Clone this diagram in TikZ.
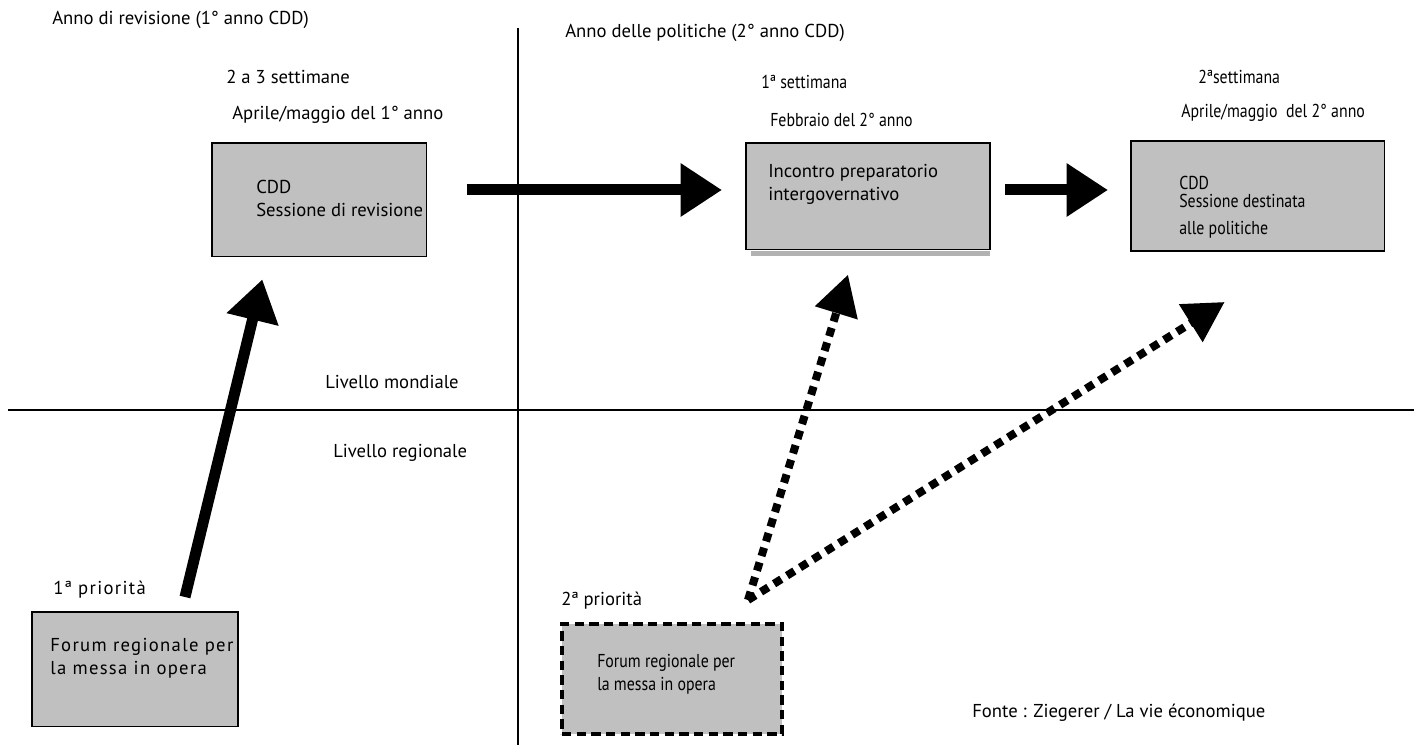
\documentclass[tikz,border=0pt]{standalone}
\usepackage{fontspec}
\setmainfont{PT Sans}
\newfontfamily\narrowfont{PT Sans}[FakeStretch=0.85]
\newfontfamily\spacedfont{PT Sans}[LetterSpace=7]
\usetikzlibrary{arrows.meta,calc}
\definecolor{boxgray}{HTML}{C0C0C0}
\begin{document}
\begin{tikzpicture}[x=0.75pt,y=-0.75pt,
  lbl/.style={anchor=west, inner sep=0pt, font=\fontsize{14}{17.25}\selectfont, align=left},
  narrow/.style={lbl, font=\fontsize{14}{17.25}\narrowfont},
  spaced/.style={lbl, font=\fontsize{14}{17.25}\spacedfont},
  box/.style={draw=black, line width=1.2pt, fill=boxgray, anchor=north west, inner sep=0pt, outer sep=0pt},
  bigarrow/.style={line width=8.25pt, -{Triangle[length=31pt,width=38pt]}},
  dotarrow/.style={line width=6pt, dash pattern=on 6.5pt off 5pt, -{Triangle[length=30pt,width=32pt]}}
]
\useasboundingbox (0,0) rectangle (1421,745);
% axes
\draw[line width=1.2pt] (518,28) -- (518,745);
\draw[line width=1.2pt] (8,410) -- (1414,410);
% boxes
\fill[gray!60] (751,251) rectangle (990,256);
\node[box, minimum width=161pt, minimum height=85pt] (rev) at (212,143) {};
\node[box, minimum width=183pt, minimum height=80pt] (prep) at (746,143) {};
\node[box, minimum width=190pt, minimum height=82.5pt] (pol) at (1131,141) {};
\node[box, minimum width=154.5pt, minimum height=86pt] (forA) at (32,612) {};
\node[box, minimum width=165pt, minimum height=82.5pt, line width=2.5pt, dash pattern=on 7pt off 4pt] (forB) at (562,624) {};
% box texts
\node[lbl] (revtxt) at (256,198) {CDD\\Sessione di revisione};
\node[lbl] (preptxt) at (768,184) {Incontro preparatorio\\intergovernativo};
\node[narrow] (poltxt) at (1179,207) {CDD\\[-4pt]Sessione destinata\\[3pt]alle politiche};
\node[spaced] (foratxt) at (50,658) {Forum regionale per\\la messa in opera};
\node[narrow] (forbtxt) at (597,674) {Forum regionale per\\la messa in opera};
% headings
\node[lbl] (yr1) at (52,20) {Anno di revisione (1° anno CDD)};
\node[lbl] (dur1) at (226,77) {2 a 3 settimane};
\node[lbl] (date1) at (232,115) {Aprile/maggio del 1° anno};
\node[lbl] (yr2) at (565,33) {Anno delle politiche (2° anno CDD)};
\node[narrow] (wk1) at (761,82) {1ª settimana};
\node[narrow] (date2) at (770,120) {Febbraio del 2° anno};
\node[narrow] (wk2) at (1198,77) {2ªsettimana};
\node[narrow] (date3) at (1181,113) {Aprile/maggio\ \ del 2° anno};
\node[lbl] (glob) at (325,382) {Livello mondiale};
\node[lbl] (reg) at (333,453) {Livello regionale};
\node[spaced] (prio1) at (53,590) {1ª priorità};
\node[lbl] (prio2) at (561,601) {2ª priorità};
\node[lbl] (src) at (972,713) {Fonte : Ziegerer / La vie économique};
% arrows
\draw[bigarrow] ($(rev.north east)+(40,47)$) -- ($(prep.north west)+(-24,47)$);
\draw[bigarrow] ($(prep.north east)+(15,47)$) -- ($(pol.north west)+(-23,49)$);
\draw[bigarrow] ($(forA.north)+(50,-15)$) -- ($(rev.south)+(-57,23)$);
\draw[dotarrow] ($(forB.north)+(76,-24)$) -- ($(prep.south)+(-20,25)$);
\draw[dotarrow] ($(forB.north)+(76,-24)$) -- ($(pol.south)+(-33,51)$);
\end{tikzpicture}
\end{document}
